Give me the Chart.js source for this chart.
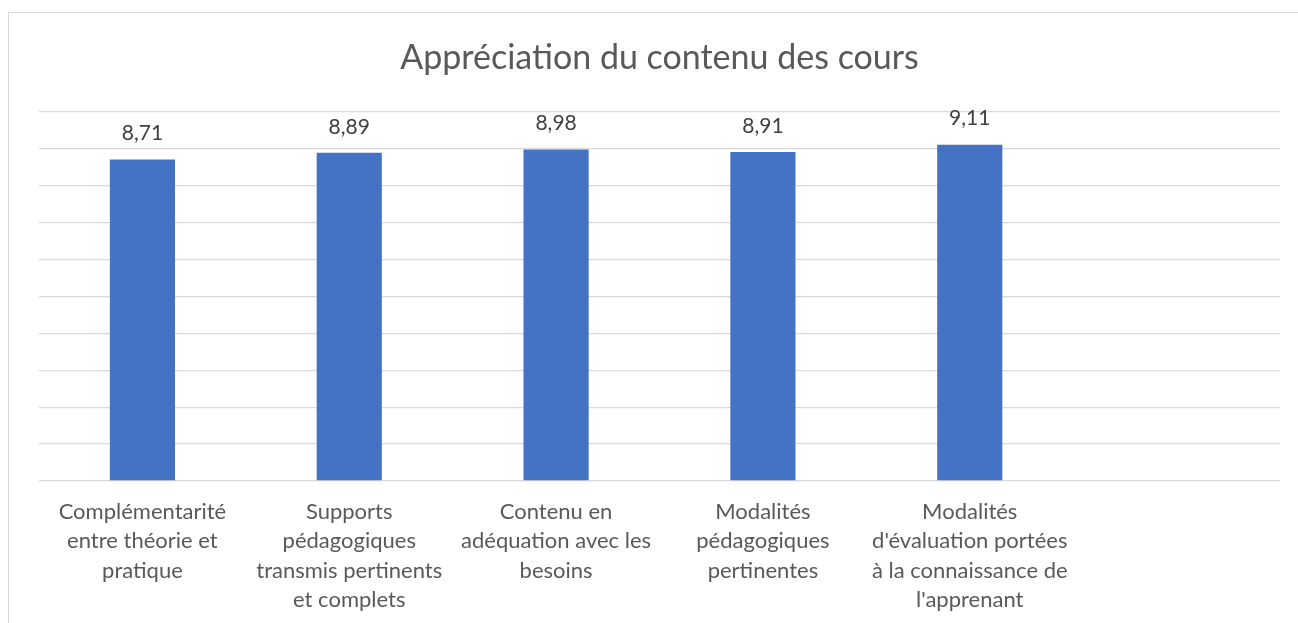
<!DOCTYPE html>
<html>
<head>
<meta charset="utf-8">
<script src="https://cdn.jsdelivr.net/npm/chart.js@4/dist/chart.umd.min.js"></script>
<style>
  html,body{margin:0;padding:0;background:#fff;overflow:hidden;}
  #frame{position:absolute;left:8px;top:12px;width:1320px;height:640px;border:1px solid #d9d9d9;box-sizing:border-box;}
  #wrap{position:absolute;left:0;top:0;width:1298px;height:623px;}
</style>
</head>
<body>
<div id="frame"></div>
<div id="wrap"><canvas id="chart"></canvas></div>
<script>
/* data */
const categories = [
  ['Complémentarité','entre théorie et','pratique'],
  ['Supports','pédagogiques','transmis pertinents','et complets'],
  ['Contenu en','adéquation avec les','besoins'],
  ['Modalités','pédagogiques','pertinentes'],
  ['Modalités',"d'évaluation portées",'à la connaissance de',"l'apprenant"],
  ''
];
const scores = [8.71, 8.89, 8.98, 8.91, 9.11, null];
const chartTitle = 'Appréciation du contenu des cours';
const yMin = 0, yMax = 10, yStep = 1;

const FONT = 'Lato, "Open Sans", sans-serif';

/* value labels above bars, french decimal comma */
const valueLabels = {
  id:'valueLabels',
  afterDatasetsDraw(chart){
    const ctx = chart.ctx;
    const meta = chart.getDatasetMeta(0);
    ctx.save();
    ctx.font = '21px ' + FONT;
    ctx.fillStyle = '#404040';
    ctx.textAlign = 'center';
    ctx.textBaseline = 'middle';
    meta.data.forEach((bar,i)=>{
      const v = scores[i];
      if(v == null) return;
      ctx.fillText(v.toFixed(2).replace('.', ','), bar.x, bar.y - 26);
    });
    ctx.restore();
  }
};

new Chart(document.getElementById('chart'), {
  type:'bar',
  data:{
    labels: categories,
    datasets:[{
      data: scores,
      backgroundColor:'#4472C4',
      borderWidth:0,
      categoryPercentage:1,
      barPercentage:0.315
    }]
  },
  options:{
    responsive:true,
    maintainAspectRatio:false,
    animation:false,
    layout:{ padding:{ left:39, right:18, top:0, bottom:0 } },
    plugins:{
      legend:{ display:false },
      tooltip:{ enabled:false },
      title:{
        display:true,
        text: chartTitle,
        color:'#595959',
        font:{ family:FONT, size:34, weight:'normal', lineHeight:1.2 },
        padding:{ top:38, bottom:33 }
      }
    },
    scales:{
      x:{
        grid:{ display:false, drawTicks:false },
        border:{ display:false },
        ticks:{
          color:'#595959',
          font:{ family:FONT, size:22, lineHeight:1.34 },
          padding:16,
          maxRotation:0,
          autoSkip:false
        },
        afterFit(scale){ scale.height = 142; }
      },
      y:{
        min:yMin, max:yMax,
        ticks:{ display:false, stepSize:yStep },
        grid:{ color:'#d9d9d9', lineWidth:1.3, drawTicks:false },
        border:{ display:false },
        afterFit(scale){ scale.width = 0; }
      }
    }
  },
  plugins:[valueLabels]
});
</script>
</body>
</html>
